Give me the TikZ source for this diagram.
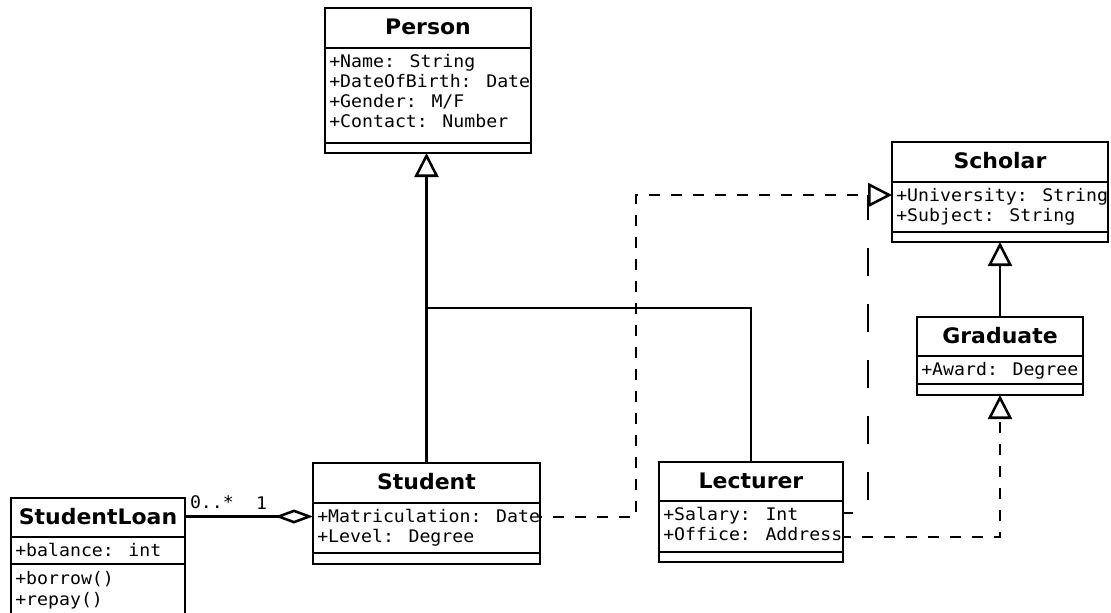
\documentclass[tikz,border=0pt]{standalone}
\usepackage{fontspec}
\usetikzlibrary{arrows.meta,fit}
\newfontfamily\umlmono[FakeStretch=1.05]{DejaVu Sans Mono}
\newfontfamily\umlsans[FakeStretch=1.03]{DejaVu Sans}

\tikzset{
  wire/.style={line width=1.9pt, line cap=butt},
  classbox/.style={draw, line width=1.9pt, inner sep=0pt, outer sep=0pt},
  classname/.style={font=\umlsans\bfseries\fontsize{16}{19}\selectfont, inner sep=0pt},
  attr/.style={font=\umlmono\fontsize{13}{15}\selectfont, anchor=base west, inner sep=0pt},
  mult/.style={font=\umlmono\fontsize{13}{15}\selectfont, inner sep=0pt},
  opentri/.style={-{Triangle[open, length=18pt, width=18pt]}},
  inherit/.style={wire, opentri},
  realize/.style={wire, dash pattern=on 8.25pt off 8.25pt},
  realizelong/.style={wire, dash pattern=on 21pt off 21pt},
  aggregate/.style={wire, -{Diamond[open, length=28.5pt, width=10.5pt]}},
}

% #1 name, #2 left, #3 right, #4 top, #5 first divider, #6 second divider,
% #7 bottom, #8 class name, #9 attribute lines
\newcommand\umlclass[9]{%
  \node[classbox, fit={(#2,#4) (#3,#7)}] (#1) {};
  \node[classname] (#1-name) at ({(#2+#3)/2},{(#4+#5)/2-1}) {#8};
  \draw[wire] (#2,#5) -- (#3,#5);
  \draw[wire] (#2,#6) -- (#3,#6);
  \foreach \t [count=\i] in {#9}
    \node[attr] (#1-a\i) at ({#2+4},{#5+19+20*(\i-1)}) {\t};
}

\begin{document}
\begin{tikzpicture}[x=0.75pt, y=-0.75pt]
  \fill[white] (0,0) rectangle (1111,612);
  \clip (0,0) rectangle (1111,612);

  % classes
  \umlclass{person}{325}{531}{8}{48}{143}{153}{Person}
    {+Name: String, +DateOfBirth: Date, +Gender: M/F, +Contact: Number}
  \umlclass{scholar}{892}{1108}{142}{182}{232}{242}{Scholar}
    {+University: String, +Subject: String}
  \umlclass{graduate}{917}{1083}{317}{356}{384}{395}{Graduate}
    {+Award: Degree}
  \umlclass{student}{313}{540}{463}{503}{553}{564}{Student}
    {+Matriculation: Date, +Level: Degree}
  \umlclass{lecturer}{659}{843}{462}{501}{552}{562}{Lecturer}
    {+Salary: Int, +Office: Address}
  \umlclass{loan}{11}{185}{498}{537}{564}{640}{StudentLoan}
    {+balance: int}
  \node[attr] (loan-m1) at (15,584) {+borrow()};
  \node[attr] (loan-m2) at (15,605) {+repay()};

  % inheritance
  \draw[inherit] (student.north) -- (student.north |- person.south);
  \coordinate (join) at (student.north |- 0,308);
  \draw[wire] (lecturer.north) |- (join);
  \draw[inherit] (graduate.north) -- (scholar.south);

  % realizations
  \coordinate (scholar-in) at (scholar.west |- 0,195);
  \coordinate (student-out) at (student.east |- 0,517);
  \coordinate (bend-s) at (636,0);
  \draw[realize, dash phase=6.75pt, opentri]
    (student-out) -- (student-out -| bend-s) -- (bend-s |- scholar-in) -- (scholar-in);

  \coordinate (lect-out1) at (lecturer.east |- 0,513);
  \coordinate (bend-l) at (868,0);
  \draw[realizelong, dash phase=13.5pt]
    (lect-out1) -- (lect-out1 -| bend-l) -- (bend-l |- scholar-in);

  \coordinate (lect-out2) at (lecturer.east |- 0,537);
  \draw[realize, dash phase=2.25pt, opentri] (lect-out2) -| (graduate.south);

  % aggregation
  \coordinate (loan-out) at (loan.east |- loan-name);
  \draw[aggregate] (loan-out) -- (loan-out -| student.west)
    node[mult, pos=0, anchor=south west, xshift=2.8pt, yshift=4.5pt] (mult-many) {0..*}
    node[mult, pos=1, anchor=south east, xshift=-33.4pt, yshift=4.5pt] (mult-one) {1};
\end{tikzpicture}
\end{document}
